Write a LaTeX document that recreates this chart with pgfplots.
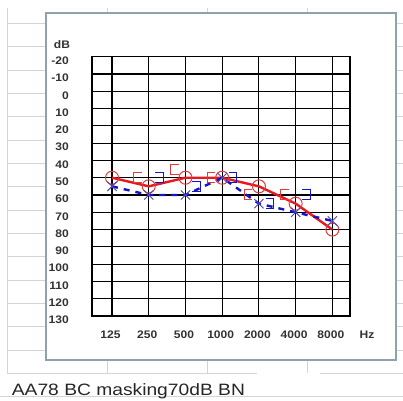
\documentclass[border=0pt]{standalone}
\usepackage{pgfplots}
\pgfplotsset{compat=1.18}
\usepackage{fontspec}
\setmainfont{Liberation Sans}
\newfontfamily\tickfont[FakeStretch=1.1]{Liberation Sans}
\newfontfamily\titlefont[FakeStretch=1.17]{Liberation Sans}

\definecolor{sheetline}{HTML}{D4D4D4}
\definecolor{chartframe}{HTML}{8FA2AC}
\definecolor{acred}{HTML}{E8181E}
\definecolor{markred}{HTML}{E03C3C}
\definecolor{acblue}{HTML}{1414C8}
\definecolor{markblue}{HTML}{4848C0}

% masked bone-conduction symbols: "[" right ear, "]" left ear
\pgfdeclareplotmark{lbr}{%
  \pgfpathmoveto{\pgfqpoint{1.0\pgfplotmarksize}{\pgfplotmarksize}}%
  \pgfpathlineto{\pgfqpoint{-0.6\pgfplotmarksize}{\pgfplotmarksize}}%
  \pgfpathlineto{\pgfqpoint{-0.6\pgfplotmarksize}{-\pgfplotmarksize}}%
  \pgfpathlineto{\pgfqpoint{1.0\pgfplotmarksize}{-\pgfplotmarksize}}%
  \pgfusepathqstroke}
\pgfdeclareplotmark{rbr}{%
  \pgfpathmoveto{\pgfqpoint{-1.0\pgfplotmarksize}{\pgfplotmarksize}}%
  \pgfpathlineto{\pgfqpoint{0.6\pgfplotmarksize}{\pgfplotmarksize}}%
  \pgfpathlineto{\pgfqpoint{0.6\pgfplotmarksize}{-\pgfplotmarksize}}%
  \pgfpathlineto{\pgfqpoint{-1.0\pgfplotmarksize}{-\pgfplotmarksize}}%
  \pgfusepathqstroke}

\begin{document}
\begin{tikzpicture}[x=1bp,y=1bp]
\path[use as bounding box, fill=white] (0,0) rectangle (403,401);
% worksheet cell borders (rows measured from the top edge)
\foreach \r in {1,...,15}
  \draw[sheetline, line width=0.8bp] (7,401-23.33*\r) -- (403,401-23.33*\r);
\draw[sheetline, line width=0.8bp] (7,401-373.3) -- (257,401-373.3);
\draw[sheetline, line width=0.8bp] (320,401-373.3) -- (403,401-373.3);
\draw[sheetline, line width=0.8bp] (0,401-396.7) -- (403,401-396.7);
\foreach \c in {7,107,207,307}
  \draw[sheetline, line width=0.8bp] (\c,401-8) -- (\c,401-373.3);
% chart area
\draw[chartframe, line width=1.1bp, fill=white] (46,401-13) rectangle (396,401-360);

\begin{axis}[
  at={(92bp,85bp)}, anchor=south west,
  scale only axis, width=258bp, height=259.3bp,
  xmin=-0.545, xmax=6.48, ymin=-20, ymax=130, y dir=reverse,
  xtick={0,...,6},
  xticklabels={125,250,500,1000,2000,4000,8000},
  ytick={-20,-10,...,130},
  yticklabels={-20,-10,0,10,20,30,40,50,60,70,80,90,100,110,120,130},
  grid=major,
  major grid style={black, line width=1.1bp},
  axis line style={black, line width=1.1bp},
  major tick length=0pt,
  tick label style={font=\fontsize{11}{13}\selectfont\tickfont\bfseries, text=black!80},
  xticklabel style={anchor=center, inner sep=0pt, yshift=-19bp, xshift=-1.5bp},
  yticklabel style={anchor=east, inner sep=0pt, xshift=-23bp, yshift=-4bp},
  clip=false,
]
% right ear, air conduction
\addplot[acred, line width=2.4bp, mark=o, mark size=6.5bp,
  mark options={markred, line width=1bp, fill=white, solid}]
  coordinates {(0,50) (1,55) (2,50) (3,50) (4,55) (5,65) (6,80)};
% right ear, masked bone conduction
\addplot[only marks, mark=lbr, mark size=5bp, mark options={markred, line width=1bp}]
  coordinates {(0.68,50) (1.68,45) (2.68,50) (3.68,60) (4.68,60)};
% left ear, air conduction
\addplot[acblue, line width=2.4bp, dash pattern=on 6bp off 6bp, mark=x, mark size=6.5bp,
  mark options={markblue, line width=0.9bp, solid}]
  coordinates {(0,55) (1,60) (2,60) (3,50) (4,65) (5,70) (6,75)};
% left ear, masked bone conduction
\addplot[only marks, mark=rbr, mark size=5bp, mark options={acblue, line width=1bp}]
  coordinates {(1.32,50) (2.32,55) (3.32,50) (4.32,65) (5.32,60)};
\end{axis}

\node[font=\fontsize{11}{13}\selectfont\tickfont\bfseries, text=black!80] at (62,401-45) {dB};
\node[font=\fontsize{11}{13}\selectfont\tickfont\bfseries, text=black!80] at (367,401-335) {Hz};
\node[anchor=base west, inner sep=0pt, font=\fontsize{16.5}{18}\selectfont\titlefont, text=black!85]
  at (11.7,401-395) {AA78 BC masking70dB BN};
\end{tikzpicture}
\end{document}
